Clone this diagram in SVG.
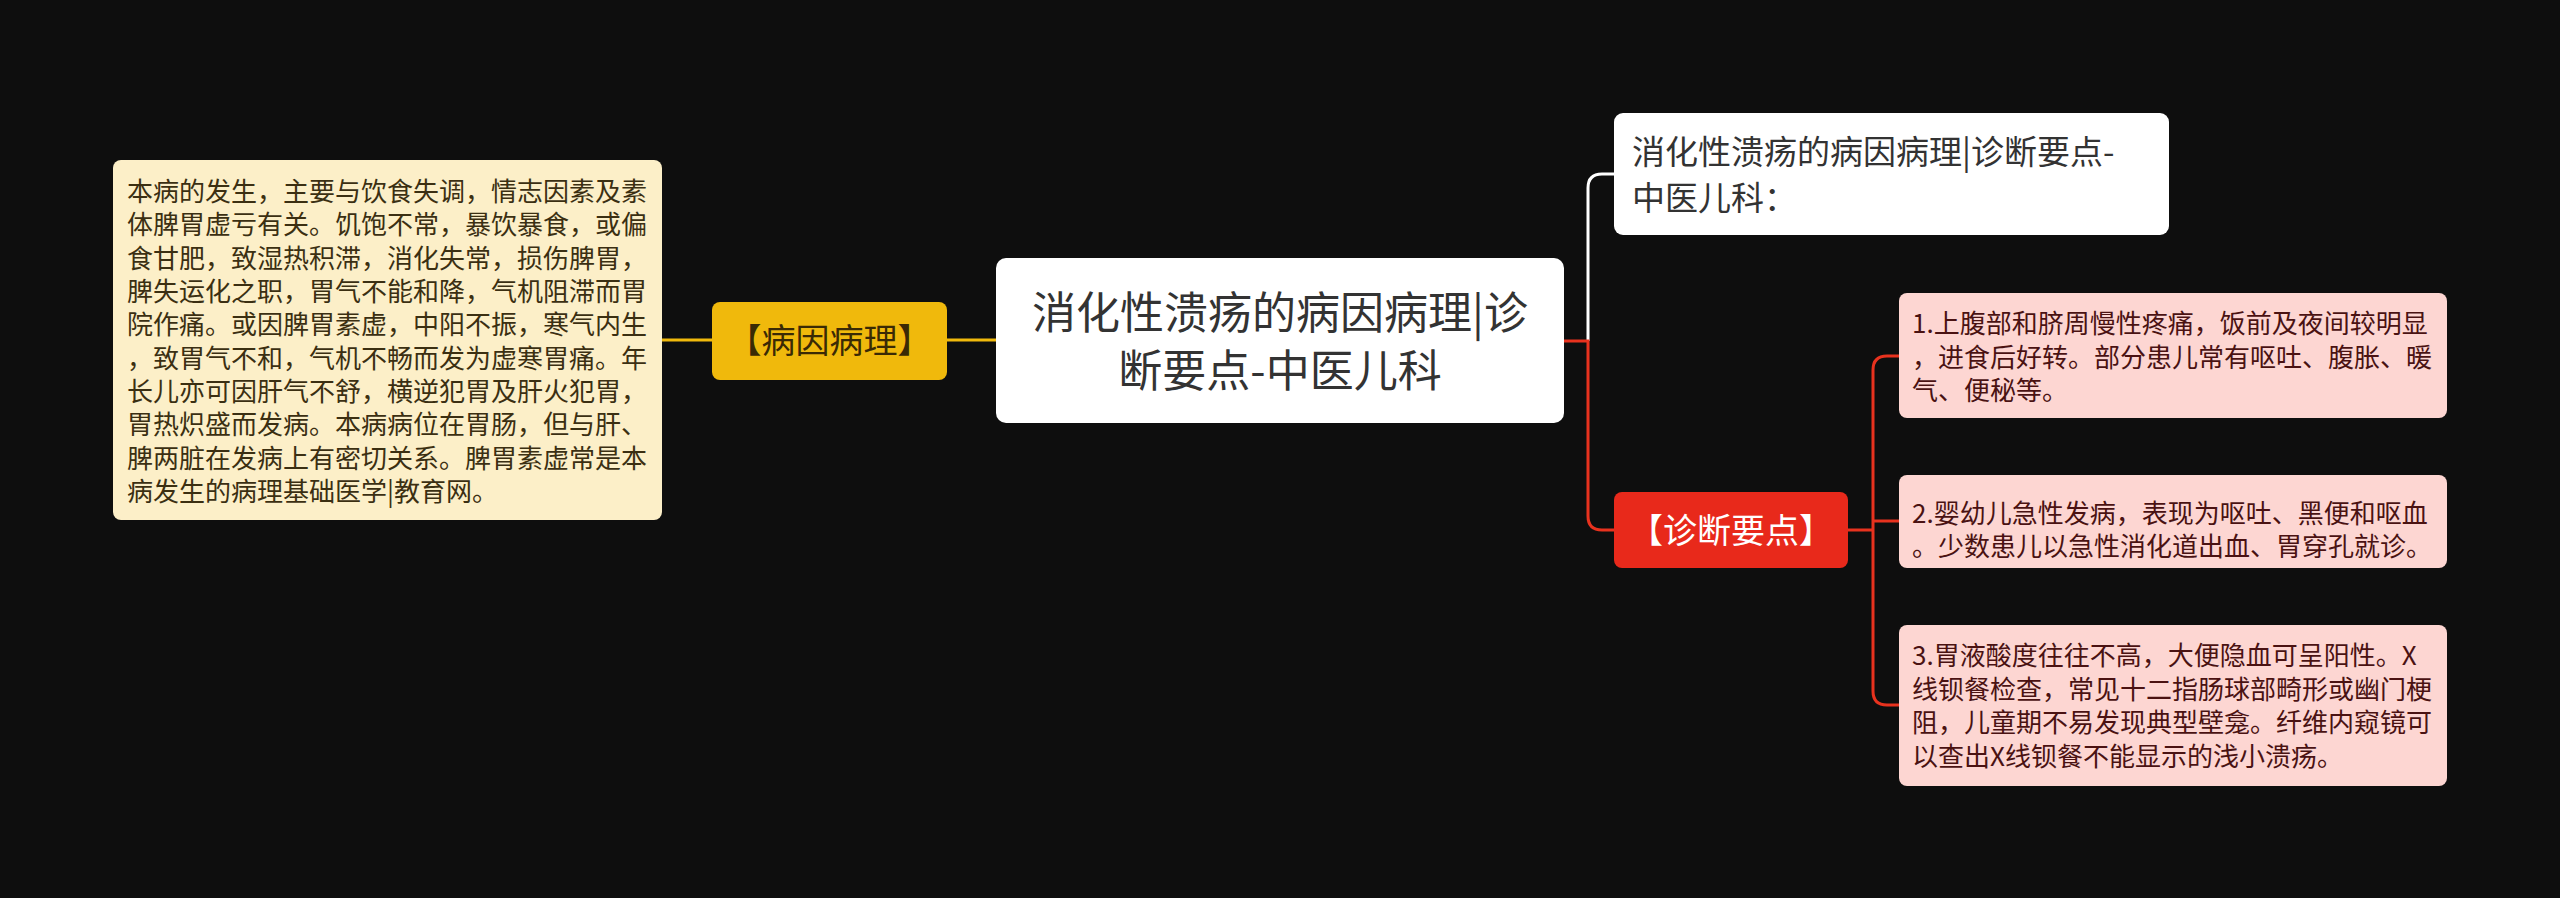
<svg xmlns="http://www.w3.org/2000/svg" width="2560" height="898" viewBox="0 0 2560 898">
<style>
text{font-family:"Noto Sans CJK SC","Noto Sans",sans-serif}
.lbox{fill:#fcefc8}
.ltxt{font-size:26px;fill:#3b2f12}
.central{fill:#ffffff}
.ctxt{font-size:44px;fill:#333333;text-anchor:middle}
.yel{fill:#f0b90c}
.ytxt{font-size:34px;fill:#3a2a05;text-anchor:middle}
.red{fill:#e8291b}
.rtxt{font-size:34px;fill:#ffffff;text-anchor:middle}
.wnode{fill:#ffffff}
.wtxt{font-size:33px;fill:#333333}
.pink{fill:#fdd6d2}
.ptxt{font-size:26px;fill:#4a1212}
.cy{stroke:#f0b90c;stroke-width:3;fill:none}
.cr{stroke:#e8321e;stroke-width:3;fill:none}
.cw{stroke:#ffffff;stroke-width:3;fill:none}
</style>
<rect x="0" y="0" width="2560" height="898" fill="#0e0e0e"/>
<g id="connectors">
<path class="cy" d="M662,340 H712"/>
<path class="cy" d="M947,340 H996"/>
<path class="cw" d="M1588,341 V188 Q1588,174 1602,174 H1614"/>
<path class="cr" d="M1564,341 H1588 V516 Q1588,530 1602,530 H1614"/>
<path class="cr" d="M1848,530 H1873"/>
<path class="cr" d="M1899,356 H1887 Q1873,356 1873,370 V691 Q1873,705 1887,705 H1899"/>
<path class="cr" d="M1873,521 H1899"/>
</g>
<g id="node-left-text">
<rect class="lbox" x="113" y="160" width="549" height="360" rx="8"/>
<text class="ltxt" x="127" y="201">本病的发生，主要与饮食失调，情志因素及素</text>
<text class="ltxt" x="127" y="234.3">体脾胃虚亏有关。饥饱不常，暴饮暴食，或偏</text>
<text class="ltxt" x="127" y="267.7">食甘肥，致湿热积滞，消化失常，损伤脾胃，</text>
<text class="ltxt" x="127" y="301">脾失运化之职，胃气不能和降，气机阻滞而胃</text>
<text class="ltxt" x="127" y="334.3">院作痛。或因脾胃素虚，中阳不振，寒气内生</text>
<text class="ltxt" x="127" y="367.7">，致胃气不和，气机不畅而发为虚寒胃痛。年</text>
<text class="ltxt" x="127" y="401">长儿亦可因肝气不舒，横逆犯胃及肝火犯胃，</text>
<text class="ltxt" x="127" y="434.3">胃热炽盛而发病。本病病位在胃肠，但与肝、</text>
<text class="ltxt" x="127" y="467.7">脾两脏在发病上有密切关系。脾胃素虚常是本</text>
<text class="ltxt" x="127" y="501">病发生的病理基础医学|教育网。</text>
</g>
<g id="node-bingyin">
<rect class="yel" x="712" y="302" width="235" height="78" rx="8"/>
<text class="ytxt" x="829.5" y="353">【病因病理】</text>
</g>
<g id="node-central">
<rect class="central" x="996" y="258" width="568" height="165" rx="10"/>
<text class="ctxt" x="1280" y="329">消化性溃疡的病因病理|诊</text>
<text class="ctxt" x="1280" y="387">断要点-中医儿科</text>
</g>
<g id="node-title">
<rect class="wnode" x="1614" y="113" width="555" height="122" rx="9"/>
<text class="wtxt" x="1632" y="164">消化性溃疡的病因病理|诊断要点-</text>
<text class="wtxt" x="1632" y="210">中医儿科：</text>
</g>
<g id="node-zhenduan">
<rect class="red" x="1614" y="492" width="234" height="76" rx="8"/>
<text class="rtxt" x="1731" y="543">【诊断要点】</text>
</g>
<g id="node-item1">
<rect class="pink" x="1899" y="293" width="548" height="125" rx="8"/>
<text class="ptxt" x="1912" y="333">1.上腹部和脐周慢性疼痛，饭前及夜间较明显</text>
<text class="ptxt" x="1912" y="366.5">，进食后好转。部分患儿常有呕吐、腹胀、暖</text>
<text class="ptxt" x="1912" y="400">气、便秘等。</text>
</g>
<g id="node-item2">
<rect class="pink" x="1899" y="475" width="548" height="93" rx="8"/>
<text class="ptxt" x="1912" y="523">2.婴幼儿急性发病，表现为呕吐、黑便和呕血</text>
<text class="ptxt" x="1912" y="556">。少数患儿以急性消化道出血、胃穿孔就诊。</text>
</g>
<g id="node-item3">
<rect class="pink" x="1899" y="625" width="548" height="161" rx="8"/>
<text class="ptxt" x="1912" y="665">3.胃液酸度往往不高，大便隐血可呈阳性。X</text>
<text class="ptxt" x="1912" y="698.5">线钡餐检查，常见十二指肠球部畸形或幽门梗</text>
<text class="ptxt" x="1912" y="732">阻，儿童期不易发现典型壁龛。纤维内窥镜可</text>
<text class="ptxt" x="1912" y="765.5">以查出X线钡餐不能显示的浅小溃疡。</text>
</g>
</svg>
